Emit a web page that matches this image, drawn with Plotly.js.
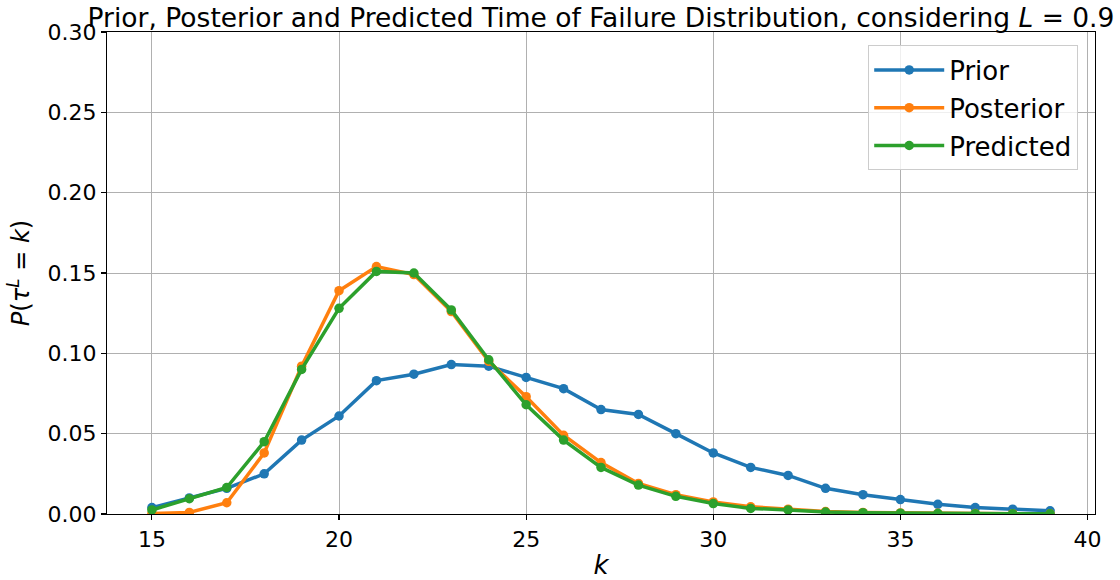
<!DOCTYPE html>
<html>
<head>
<meta charset="utf-8">
<script src="https://cdn.plot.ly/plotly-3.0.1.min.js"></script>
<style>html,body{margin:0;padding:0;background:#fff;}#chart{width:1120px;height:580px;}</style>
</head>
<body>
<div id="chart"></div>
<script>
const k = [15,16,17,18,19,20,21,22,23,24,25,26,27,28,29,30,31,32,33,34,35,36,37,38,39];
const prior = [0.004,0.010,0.016,0.025,0.046,0.061,0.083,0.087,0.093,0.092,0.085,0.078,0.065,0.062,0.050,0.038,0.029,0.024,0.016,0.012,0.009,0.006,0.004,0.003,0.002];
const posterior = [0.0003,0.001,0.007,0.038,0.092,0.139,0.154,0.149,0.126,0.095,0.073,0.049,0.032,0.019,0.012,0.0075,0.0045,0.003,0.0015,0.001,0.0007,0.0004,0.0003,0.0002,0.0001];
const predicted = [0.0025,0.0095,0.0165,0.045,0.090,0.128,0.151,0.150,0.127,0.096,0.068,0.046,0.029,0.018,0.011,0.0065,0.0035,0.0025,0.0012,0.0008,0.0005,0.0003,0.0002,0.0001,0.0001];
const seriesNames = ['Prior','Posterior','Predicted'];
const colors = ['#1f77b4','#ff7f0e','#2ca02c'];
const xTicks = [15,20,25,30,35,40];
const yTicks = [0,0.05,0.10,0.15,0.20,0.25,0.30];

const font = 'DejaVu Sans, sans-serif';
const values = [prior, posterior, predicted];
const traces = values.map((v, i) => ({
  x: k, y: v, name: seriesNames[i], legendgroup: 'g' + i, type: 'scatter', mode: 'lines+markers',
  line: {color: colors[i], width: 3.5},
  marker: {color: colors[i], size: 9.5}
}));

const layout = {
  width: 1120, height: 580,
  margin: {l: 107, r: 25, t: 32, b: 66},
  paper_bgcolor: '#fff', plot_bgcolor: '#fff',
  font: {family: font, size: 22, color: '#000'},
  title: {text: 'Prior, Posterior and Predicted Time of Failure Distribution, considering <i>L</i> = 0.9',
          font: {family: font, size: 26.5, color: '#000'},
          xref: 'paper', x: 0.5, xanchor: 'center', yref: 'container', y: 0.953, yanchor: 'bottom'},
  xaxis: {
    range: [13.8, 40.2], tickvals: xTicks, ticktext: xTicks.map(String),
    showgrid: true, gridcolor: '#b0b0b0', gridwidth: 1,
    showline: true, linecolor: '#000', linewidth: 1.1, mirror: true,
    ticks: 'outside', ticklen: 5, tickwidth: 1.1, tickcolor: '#000',
    zeroline: false, tickfont: {family: font, size: 22, color: '#000'},
    title: {text: '<i>k</i>', font: {family: font, size: 26, color: '#000'}, standoff: 8}
  },
  yaxis: {
    range: [0, 0.30], tickvals: yTicks, ticktext: yTicks.map(v => v.toFixed(2)),
    showgrid: true, gridcolor: '#b0b0b0', gridwidth: 1,
    showline: true, linecolor: '#000', linewidth: 1.1, mirror: true,
    ticks: 'outside', ticklen: 5, tickwidth: 1.1, tickcolor: '#000',
    zeroline: false, tickfont: {family: font, size: 22, color: '#000'},
    title: {text: '<i>P</i>(<i>τ</i><sup><i>L</i></sup> = <i>k</i>)', font: {family: font, size: 24, color: '#000'}, standoff: 11}
  },
  legend: {
    x: 0.983, xanchor: 'right', y: 0.972, yanchor: 'top',
    bgcolor: 'rgba(255,255,255,0.8)', bordercolor: '#cccccc', borderwidth: 1,
    font: {family: font, size: 26, color: '#000'},
    tracegroupgap: 1, traceorder: 'grouped', itemwidth: 70
  },
  showlegend: true
};

Plotly.newPlot('chart', traces, layout, {displayModeBar: false, staticPlot: true});
</script>
</body>
</html>
